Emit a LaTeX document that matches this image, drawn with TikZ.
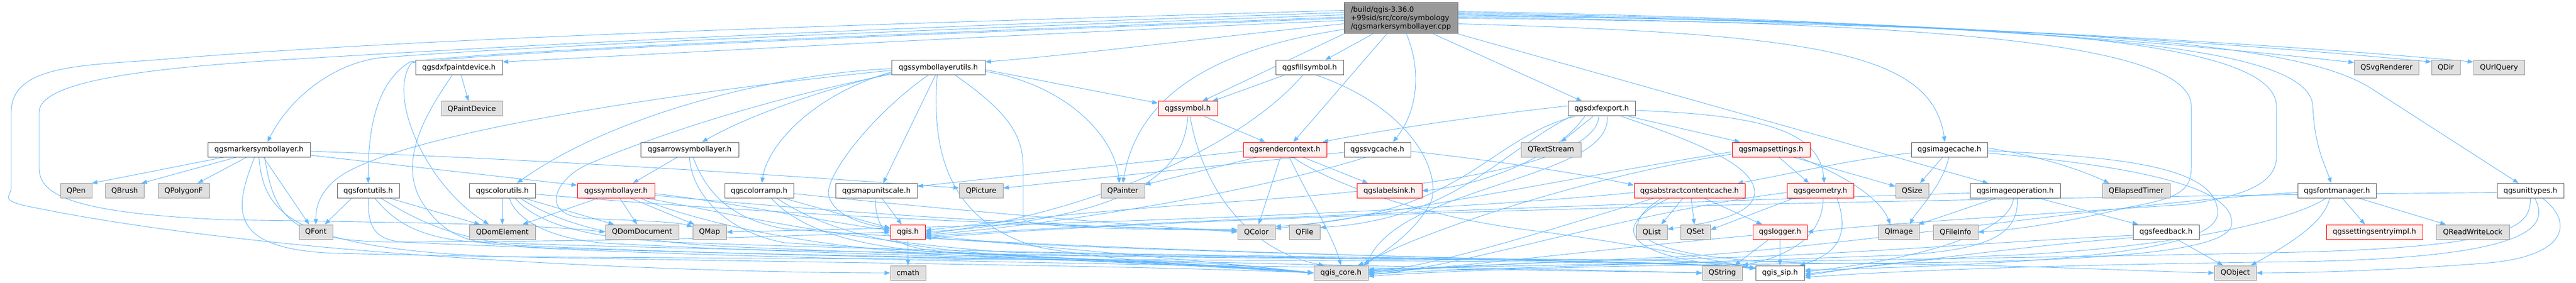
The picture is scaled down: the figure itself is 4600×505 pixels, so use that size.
\documentclass[tikz,border=0pt]{standalone}
\usepackage{fontspec}
\setmainfont{DejaVu Sans}
\usetikzlibrary{arrows.meta}
\definecolor{edgeblue}{HTML}{63B8FF}
\definecolor{boxgray}{HTML}{666666}
\definecolor{extgray}{HTML}{999999}
\definecolor{extfill}{HTML}{E0E0E0}
\definecolor{redfill}{HTML}{FFF0F0}
\definecolor{rootfill}{HTML}{999999}
\newcommand{\dxfont}{\fontsize{12.9pt}{15pt}\selectfont}
\pgfdeclarelayer{edges}
\pgfsetlayers{edges,main}
\begin{document}
\begin{tikzpicture}[x=1pt,y=1pt,
  nd/.style={draw=boxgray, fill=white, line width=1pt, minimum height=26pt, inner sep=0pt, font=\dxfont, anchor=center, text=black},
  ext/.style={nd, draw=extgray, fill=extfill},
  trunc/.style={nd, draw=red, fill=redfill},
  edg/.style={draw=edgeblue, line width=0.9pt, -{Triangle[length=10pt,width=7.5pt]}},
]
\useasboundingbox (0,0) rectangle (4600,-505);
% nodes
\node[nd, fill=rootfill, minimum width=203pt, minimum height=55pt, align=left] (root) at (2501.5,-32.5) {/build/qgis-3.36.0\\+99sid/src/core/symbology\\/qgsmarkersymbollayer.cpp};
\node[nd, minimum width=155pt] (dxfpd) at (819.5,-120.5) {qgsdxfpaintdevice.h};
\node[nd, minimum width=167pt] (slu) at (1675.5,-120.5) {qgssymbollayerutils.h};
\node[nd, minimum width=121pt] (fs) at (2338.5,-120.5) {qgsfillsymbol.h};
\node[ext, minimum width=115pt] (svgr) at (4261.5,-120.5) {QSvgRenderer};
\node[ext, minimum width=51pt] (qdir) at (4367.5,-120.5) {QDir};
\node[ext, minimum width=91pt] (qurl) at (4462.5,-120.5) {QUrlQuery};
\node[ext, minimum width=109pt] (qpd) at (842.5,-194) {QPaintDevice};
\node[trunc, minimum width=106pt] (sym) at (2121,-194) {qgssymbol.h};
\node[nd, minimum width=120pt] (dxfe) at (2860,-194) {qgsdxfexport.h};
\node[nd, minimum width=183pt] (msl) at (462.5,-267) {qgsmarkersymbollayer.h};
\node[nd, minimum width=175pt] (asl) at (1231.5,-267) {qgsarrowsymbollayer.h};
\node[trunc, minimum width=149pt] (rc) at (2294.5,-267) {qgsrendercontext.h};
\node[nd, minimum width=119pt] (svg) at (2459.5,-267) {qgssvgcache.h};
\node[ext, minimum width=107pt] (qts) at (2769.5,-267) {QTextStream};
\node[trunc, minimum width=139pt] (ms) at (3162.5,-267) {qgsmapsettings.h};
\node[nd, minimum width=136pt] (ic) at (3481,-267) {qgsimagecache.h};
\node[ext, minimum width=56pt] (qpen) at (136,-340.5) {QPen};
\node[ext, minimum width=69pt] (qbrush) at (222.5,-340.5) {QBrush};
\node[ext, minimum width=92pt] (qpoly) at (328,-340.5) {QPolygonF};
\node[nd, minimum width=111pt] (fu) at (657.5,-340.5) {qgsfontutils.h};
\node[nd, minimum width=118pt] (cu) at (897,-340.5) {qgscolorutils.h};
\node[trunc, minimum width=138pt] (sl) at (1100,-340.5) {qgssymbollayer.h};
\node[nd, minimum width=123pt] (cr) at (1355.5,-340.5) {qgscolorramp.h};
\node[nd, minimum width=146pt] (mus) at (1565,-340.5) {qgsmapunitscale.h};
\node[ext, minimum width=78pt] (qpic) at (1752,-340.5) {QPicture};
\node[ext, minimum width=78pt] (qpainter) at (2005,-340.5) {QPainter};
\node[trunc, minimum width=116pt] (ls) at (2481,-340.5) {qgslabelsink.h};
\node[trunc, minimum width=198pt] (acc) at (3017,-340.5) {qgsabstractcontentcache.h};
\node[trunc, minimum width=119pt] (geom) at (3250.5,-340.5) {qgsgeometry.h};
\node[ext, minimum width=59pt] (qsize) at (3414.5,-340.5) {QSize};
\node[nd, minimum width=161pt] (io) at (3598.5,-340.5) {qgsimageoperation.h};
\node[ext, minimum width=121pt] (qet) at (3814.5,-340.5) {QElapsedTimer};
\node[nd, minimum width=140pt] (fm) at (4173,-340.5) {qgsfontmanager.h};
\node[nd, minimum width=119pt] (ut) at (4518.5,-340.5) {qgsunittypes.h};
\node[ext, minimum width=60pt] (qfont) at (564,-414) {QFont};
\node[ext, minimum width=118pt] (qde) at (897,-414) {QDomElement};
\node[ext, minimum width=131pt] (qdd) at (1146.5,-414) {QDomDocument};
\node[ext, minimum width=60pt] (qmap) at (1267,-414) {QMap};
\node[trunc, minimum width=62pt] (qgis) at (1621,-414) {qgis.h};
\node[ext, minimum width=67pt] (qcolor) at (2243.5,-414) {QColor};
\node[ext, minimum width=55pt] (qfile) at (2329.5,-414) {QFile};
\node[ext, minimum width=55pt] (qlist) at (2949.5,-414) {QList};
\node[ext, minimum width=53pt] (qset) at (3027.5,-414) {QSet};
\node[trunc, minimum width=97pt] (log) at (3178.5,-414) {qgslogger.h};
\node[ext, minimum width=73pt] (qimage) at (3390.5,-414) {QImage};
\node[ext, minimum width=80pt] (qfi) at (3492,-414) {QFileInfo};
\node[nd, minimum width=118pt] (fb) at (3868,-414) {qgsfeedback.h};
\node[trunc, minimum width=172pt] (sei) at (4240,-414) {qgssettingsentryimpl.h};
\node[ext, minimum width=131pt] (qrwl) at (4415.5,-414) {QReadWriteLock};
\node[ext, minimum width=63pt] (cmath) at (1621.5,-487) {cmath};
\node[ext, minimum width=97pt] (core) at (2394.5,-487) {qgis\_core.h};
\node[ext, minimum width=71pt] (qstring) at (3075.5,-487) {QString};
\node[nd, minimum width=87pt] (sip) at (3178.5,-487) {qgis\_sip.h};
\node[ext, minimum width=75pt] (qobject) at (3991.5,-487) {QObject};

\begin{pgfonlayer}{edges}
\fill[white] (0,0) rectangle (4600,-505);
% root, left side
\draw[edg] ([yshift=14pt]root.west) .. controls (1300,-50) and (700,-72) .. (290,-106) .. controls (150,-117) and (20,-115) .. (20,-200) -- (20,-335) .. controls (20,-350) and (0,-355) .. (40,-366) .. controls (200,-400) and (400,-425) .. (600,-443) .. controls (1000,-478) and (1400,-487) .. (cmath.west);
\draw[edg] ([yshift=10pt]root.west) .. controls (1300,-58) and (750,-92) .. (500,-107) .. controls (300,-120) and (70,-140) .. (70,-200) -- (70,-300) .. controls (70,-345) and (120,-380) .. (400,-392) .. controls (700,-397) and (950,-399) .. (qdd.west);
\draw[edg] ([yshift=6pt]root.west) .. controls (1500,-58) and (900,-85) .. (680,-103) .. controls (600,-112) and (520,-170) .. ([xshift=15pt]msl.north);
\draw[edg] ([yshift=2pt]root.west) .. controls (1500,-64) and (900,-90) .. (733,-110) .. controls (665,-150) and (657,-250) .. (fu.north);
\draw[edg] (root.west) .. controls (1500,-66) and (900,-92) .. (735,-112) .. controls (690,-170) and (760,-330) .. ([xshift=-24pt]qde.north);
\draw[edg] ([yshift=-4pt]root.west) .. controls (1800,-62) and (1200,-95) .. ([yshift=10pt]dxfpd.east);
\draw[edg] ([yshift=-10pt]root.west) .. controls (2200,-62) and (1950,-95) .. ([yshift=10pt]slu.east);
\draw[edg] ([yshift=-20pt]root.west) .. controls (2150,-90) and (2030,-180) .. (qpainter.north);
% root, bottom
\draw[edg] (root.south west) -- ([xshift=26pt]sym.north);
\draw[edg] ([xshift=-50pt]root.south) -- ([xshift=28pt]fs.north);
\draw[edg] ([xshift=-25pt]root.south) -- ([xshift=15pt]rc.north);
\draw[edg] ([xshift=10pt]root.south) .. controls (2540,-130) and (2530,-200) .. ([xshift=28pt]svg.north);
\draw[edg] ([xshift=58pt]root.south) -- ([xshift=-35pt]dxfe.north);
\draw[edg] (root.south east) -- ([xshift=-48pt]io.north);
% root, right side
\draw[edg] ([yshift=-10pt]root.east) .. controls (3250,-60) and (3450,-95) .. ([xshift=-8pt]ic.north);
\draw[edg] ([yshift=12pt]root.east) .. controls (3500,-35) and (4000,-90) .. ([yshift=9pt]svgr.west);
\draw[edg] ([yshift=10pt]root.east) .. controls (3600,-40) and (4200,-97) .. ([yshift=10pt]qdir.west);
\draw[edg] ([yshift=8pt]root.east) .. controls (3700,-45) and (4300,-100) .. ([yshift=10pt]qurl.west);
\draw[edg] ([yshift=6pt]root.east) .. controls (3700,-45) and (4125,-80) .. (4130,-190) .. controls (4133,-260) and (4150,-290) .. ([xshift=-10pt]fm.north);
\draw[edg] ([yshift=4pt]root.east) .. controls (3500,-38) and (4065,-60) .. (4065,-190) -- (4065,-280) .. controls (4065,-330) and (4000,-352) .. (3900,-365) .. controls (3600,-385) and (3350,-400) .. (log.east);
\draw[edg] ([yshift=2pt]root.east) .. controls (3400,-40) and (3913,-70) .. (3913,-190) -- (3913,-300) .. controls (3913,-345) and (3880,-355) .. (3800,-370) .. controls (3700,-395) and (3600,-410) .. (qfi.east);
\draw[edg] (root.east) .. controls (3700,-45) and (4100,-74) .. (4233,-157) -- ([xshift=-21pt]ut.north);
% qgsmarkersymbollayer.h
\draw[edg] ([xshift=-62pt]msl.south) -- ([xshift=28pt]qpen.north);
\draw[edg] ([xshift=-40pt]msl.south) -- ([xshift=30pt]qbrush.north);
\draw[edg] ([xshift=-22pt]msl.south) -- ([xshift=25pt]qpoly.north);
\draw[edg] ([xshift=8pt]msl.south) -- ([xshift=-12pt]qfont.north);
\draw[edg] ([yshift=-3pt]msl.east) .. controls (1000,-285) and (1500,-320) .. ([yshift=5pt]qpic.west);
\draw[edg] ([yshift=-10pt]msl.east) -- ([yshift=10pt]sl.west);
\draw[edg] ([xshift=-8pt]msl.south) .. controls (420,-370) and (400,-445) .. (600,-452) .. controls (1300,-468) and (2000,-472) .. (core.west);
\draw[edg] (msl.south) .. controls (470,-380) and (520,-445) .. (900,-458) .. controls (2000,-466) and (2950,-462) .. ([yshift=9pt]sip.west);
\draw[edg] ([xshift=10pt]msl.south) .. controls (490,-390) and (520,-430) .. (700,-432) .. controls (1200,-430) and (1450,-420) .. (qgis.west);
% qgsdxfpaintdevice.h
\draw[edg] ([xshift=4pt]dxfpd.south) -- ([xshift=-6pt]qpd.north);
\draw[edg] ([xshift=-12pt]dxfpd.south) .. controls (770,-190) and (700,-290) .. (760,-370) .. controls (790,-410) and (820,-432) .. (900,-437) .. controls (1200,-450) and (1500,-458) .. (1800,-462) .. controls (2100,-466) and (2250,-480) .. (core.west);
% qgsfontutils.h
\draw[edg] ([xshift=-30pt]fu.south) -- ([xshift=16pt]qfont.north);
\draw[edg] ([xshift=39pt]fu.south) -- ([xshift=-40pt]qde.north);
\draw[edg] (fu.south) .. controls (657,-400) and (665,-428) .. (720,-432) .. controls (1100,-450) and (1500,-455) .. (1800,-462) .. controls (2100,-468) and (2250,-482) .. (core.west);
\draw[edg] ([xshift=12pt]fu.south) .. controls (700,-390) and (740,-425) .. (850,-432) .. controls (1400,-452) and (2400,-462) .. (2800,-463) .. controls (3000,-464) and (3080,-468) .. ([yshift=8pt]sip.west);
\draw[edg] ([xshift=23pt]fu.south) .. controls (740,-390) and (800,-425) .. (950,-442) .. controls (1500,-470) and (2700,-480) .. (qstring.west);
% qgscolorutils.h
\draw[edg] (cu.south) -- (qde.north);
\draw[edg] ([xshift=40pt]cu.south) -- ([xshift=-50pt]qdd.north);
\draw[edg] ([yshift=-6pt]cu.east) .. controls (1400,-385) and (1900,-405) .. ([yshift=4pt]qcolor.west);
\draw[edg] ([xshift=13pt]cu.south) .. controls (920,-390) and (980,-430) .. (1100,-435) .. controls (1500,-455) and (1900,-462) .. (2100,-468) .. controls (2250,-472) and (2300,-485) .. (core.west);
\draw[edg] ([xshift=23pt]cu.south) .. controls (960,-400) and (1050,-425) .. (1200,-432) .. controls (1800,-455) and (2700,-462) .. (2900,-464) .. controls (3050,-466) and (3090,-470) .. ([yshift=8pt]sip.west);
\draw[edg] ([xshift=33pt]cu.south) .. controls (990,-395) and (1100,-430) .. (1300,-440) .. controls (2000,-470) and (2800,-480) .. (qstring.west);
% qgsarrowsymbollayer.h
\draw[edg] ([xshift=-22pt]asl.south) -- ([xshift=30pt]sl.north);
\draw[edg] (asl.south) .. controls (1232,-330) and (1280,-410) .. (1400,-433) .. controls (1800,-460) and (2200,-470) .. (core.west);
\draw[edg] ([xshift=6pt]asl.south) .. controls (1260,-340) and (1300,-390) .. (1400,-408) .. controls (2000,-455) and (2900,-462) .. ([yshift=8pt]sip.west);
% qgssymbollayer.h
\draw[edg] ([xshift=-33pt]sl.south) -- ([xshift=36pt]qde.north);
\draw[edg] ([xshift=7pt]sl.south) -- ([xshift=-9pt]qdd.north);
\draw[edg] ([xshift=27pt]sl.south) -- ([xshift=-27pt]qmap.north);
\draw[edg] ([yshift=-5pt]sl.east) .. controls (1300,-360) and (1500,-400) .. ([yshift=3pt]qgis.west);
\draw[edg] ([yshift=-8pt]sl.east) .. controls (1500,-380) and (1900,-405) .. ([yshift=2pt]qcolor.west);
\draw[edg] ([xshift=45pt]sl.south) .. controls (1200,-380) and (1400,-440) .. (1700,-455) .. controls (2000,-468) and (2250,-480) .. (core.west);
\draw[edg] ([xshift=55pt]sl.south) .. controls (1250,-370) and (1500,-430) .. (1800,-450) .. controls (2500,-465) and (2950,-462) .. ([yshift=8pt]sip.west);
% qgscolorramp.h
\draw[edg] ([xshift=45pt]cr.south) -- ([yshift=7pt]qgis.west);
\draw[edg] ([yshift=-5pt]cr.east) .. controls (1700,-375) and (2000,-400) .. (qcolor.west);
\draw[edg] ([xshift=22pt]cr.south) .. controls (1420,-400) and (1500,-440) .. (1700,-452) .. controls (2000,-465) and (2250,-478) .. (core.west);
\draw[edg] ([xshift=32pt]cr.south) .. controls (1450,-395) and (1550,-440) .. (1800,-455) .. controls (2500,-465) and (2950,-462) .. ([yshift=8pt]sip.west);
% qgsmapunitscale.h
\draw[edg] ([xshift=10pt]mus.south) -- ([xshift=-11pt]qgis.north);
\draw[edg] ([xshift=-2pt]mus.south) .. controls (1563,-420) and (1600,-445) .. (1700,-450) .. controls (2000,-465) and (2250,-478) .. (core.west);
% qgssymbollayerutils.h
\draw[edg] ([yshift=-8pt]slu.west) .. controls (1450,-170) and (1370,-260) .. ([xshift=5pt]cr.north);
\draw[edg] ([xshift=-5pt]slu.south) -- ([xshift=12pt]mus.north);
\draw[edg] ([xshift=-18pt]slu.south) .. controls (1550,-210) and (1470,-320) .. (1480,-350) .. controls (1490,-385) and (1540,-400) .. ([yshift=6pt]qgis.west);
\draw[edg] ([xshift=-2pt]slu.south) .. controls (1665,-250) and (1680,-390) .. (1850,-440) .. controls (2000,-470) and (2250,-478) .. (core.west);
\draw[edg] ([xshift=30pt]slu.south) .. controls (1800,-200) and (1827,-240) .. (1827,-300) -- (1827,-390) .. controls (1827,-405) and (2000,-410) .. ([yshift=4pt]qcolor.west);
\draw[edg] ([yshift=-4pt]slu.east) -- ([yshift=10pt]sym.west);
\draw[edg] ([yshift=-7pt]slu.east) .. controls (1900,-150) and (1990,-240) .. ([xshift=-6pt]qpainter.north);
\draw[edg] ([yshift=-5pt]slu.west) .. controls (1200,-165) and (700,-240) .. (600,-320) .. controls (570,-345) and (564,-370) .. (qfont.north);
\draw[edg] ([yshift=-2pt]slu.west) .. controls (1400,-130) and (1100,-200) .. ([xshift=26pt]cu.north);
\draw[edg] ([yshift=-10pt]slu.west) .. controls (1450,-165) and (1330,-210) .. ([xshift=22pt]asl.north);
\draw[edg] ([yshift=-12pt]slu.west) .. controls (1350,-180) and (1150,-250) .. (1050,-293) .. controls (990,-320) and (960,-385) .. (1050,-390) .. controls (1150,-394) and (1210,-396) .. ([yshift=9pt]qmap.west);
% qgis.h
\draw[edg] (qgis.south) -- (cmath.north);
\draw[edg] ([yshift=-6pt]qgis.east) .. controls (1850,-440) and (2200,-470) .. (core.west);
\draw[edg] ([yshift=-9pt]qgis.east) .. controls (1900,-450) and (2900,-462) .. ([yshift=8pt]sip.west);
% qgssymbol.h
\draw[edg] ([xshift=29pt]sym.south) -- ([xshift=-35pt]rc.north);
\draw[edg] (sym.south) .. controls (2115,-320) and (2000,-390) .. (qgis.east);
\draw[edg] ([xshift=4pt]sym.south) .. controls (2150,-350) and (2240,-450) .. ([xshift=-30pt]core.north);
% qgsfillsymbol.h
\draw[edg] ([xshift=-45pt]fs.south) -- ([xshift=44pt]sym.north);
\draw[edg] ([xshift=-12pt]fs.south) .. controls (2200,-280) and (1900,-390) .. ([yshift=-3pt]qgis.east);
\draw[edg] ([xshift=12pt]fs.south) .. controls (2540,-200) and (2580,-330) .. (2550,-370) .. controls (2520,-420) and (2460,-460) .. ([xshift=30pt]core.north);
% qgsrendercontext.h
\draw[edg] ([xshift=32pt]rc.south) -- ([xshift=-38pt]ls.north);
\draw[edg] ([xshift=-8pt]rc.south) -- ([xshift=4pt]qcolor.north);
\draw[edg] ([xshift=8pt]rc.south) .. controls (2330,-340) and (2380,-420) .. (core.north);
\draw[edg] ([xshift=14pt]rc.south) .. controls (2380,-330) and (2550,-390) .. (2750,-413) .. controls (2950,-440) and (3060,-465) .. ([yshift=8pt]sip.west);
\draw[edg] ([yshift=-3pt]rc.west) -- ([yshift=8pt]mus.east);
\draw[edg] ([xshift=-50pt]rc.south) -- ([yshift=11pt]qpainter.east);
% qgssvgcache.h
\draw[edg] ([yshift=-5pt]svg.west) -- ([yshift=5pt]qpic.east);
\draw[edg] ([yshift=-3pt]svg.east) .. controls (2700,-290) and (2850,-315) .. ([yshift=10pt]acc.west);
\draw[edg] ([xshift=-20pt]svg.south) .. controls (2250,-340) and (1900,-400) .. ([yshift=-5pt]qgis.east);
% qgsdxfexport.h
\draw[edg] ([xshift=-15pt]dxfe.south) -- ([xshift=18pt]qts.north);
\draw[edg] ([xshift=48pt]dxfe.south) -- ([xshift=-55pt]ms.north);
\draw[edg] ([yshift=-3pt]dxfe.east) .. controls (3150,-205) and (3250,-235) .. ([xshift=7pt]geom.north);
\draw[edg] ([yshift=5pt]dxfe.west) .. controls (2650,-205) and (2450,-235) .. ([xshift=-8pt]rc.north east);
\draw[edg] ([xshift=-48pt]dxfe.south) .. controls (2650,-250) and (2620,-385) .. ([yshift=10pt]qcolor.east);
\draw[edg] ([xshift=-54pt]dxfe.south) .. controls (2680,-270) and (2600,-390) .. ([yshift=8pt]qfile.east);
\draw[edg] ([xshift=-30pt]dxfe.south) .. controls (2780,-280) and (2650,-330) .. (ls.east);
\draw[edg] ([xshift=35pt]dxfe.south) .. controls (3050,-260) and (3135,-300) .. (3133,-345) .. controls (3130,-385) and (3050,-398) .. ([yshift=5pt]qlist.east);
\draw[edg] ([xshift=-5pt]dxfe.south) .. controls (2850,-300) and (2500,-340) .. (2200,-360) .. controls (1900,-380) and (1750,-400) .. ([yshift=3pt]qgis.east);
\draw[edg] ([xshift=10pt]dxfe.south) .. controls (2880,-320) and (2500,-330) .. ([xshift=45pt]core.north);
% qgsmapsettings.h
\draw[edg] ([xshift=14pt]ms.south) -- ([xshift=-20pt]geom.north);
\draw[edg] ([xshift=40pt]ms.south) -- ([yshift=8pt]qsize.west);
\draw[edg] ([xshift=50pt]ms.south) .. controls (3310,-320) and (3360,-360) .. ([xshift=-15pt]qimage.north);
\draw[edg] ([yshift=-4pt]ms.west) .. controls (2900,-300) and (2500,-380) .. ([yshift=6pt]qcolor.east);
\draw[edg] ([yshift=-8pt]ms.west) .. controls (2800,-320) and (2500,-430) .. ([xshift=40pt]core.north);
% qgsabstractcontentcache.h
\draw[edg] ([xshift=-12pt]acc.south) -- ([xshift=17pt]qlist.north);
\draw[edg] ([xshift=3pt]acc.south) -- ([xshift=-2pt]qset.north);
\draw[edg] ([xshift=27pt]acc.south) -- ([xshift=-32pt]log.north);
\draw[edg] ([xshift=-65pt]acc.south) .. controls (2800,-400) and (2550,-480) .. ([yshift=3pt]core.east);
\draw[edg] ([xshift=-37pt]acc.south) .. controls (2880,-400) and (2880,-460) .. ([yshift=9pt]sip.west);
\draw[edg] ([xshift=-50pt]acc.south) .. controls (2860,-420) and (2950,-470) .. (3300,-470) .. controls (3600,-472) and (3850,-485) .. (qobject.west);
\draw[edg] ([yshift=-3pt]acc.west) .. controls (2500,-385) and (1700,-405) .. (qmap.east);
% qgsgeometry.h
\draw[edg] ([xshift=-48pt]geom.south) -- ([yshift=4pt]qset.east);
\draw[edg] ([yshift=-3pt]geom.west) .. controls (2900,-380) and (2600,-480) .. ([yshift=-3pt]core.east);
\draw[edg] ([xshift=30pt]geom.south) .. controls (3300,-410) and (3290,-450) .. ([xshift=35pt]sip.north);
\draw[edg] ([xshift=5pt]geom.south) .. controls (3255,-430) and (3180,-460) .. (qstring.north east);
% qgslogger.h
\draw[edg] ([xshift=-20pt]log.south) -- ([xshift=22pt]qstring.north);
\draw[edg] (log.south) -- (sip.north);
\draw[edg] ([yshift=-6pt]log.west) .. controls (2900,-440) and (2600,-478) .. (core.east);
% qgsimagecache.h
\draw[edg] ([xshift=-12pt]ic.south) -- ([xshift=14pt]qsize.north);
\draw[edg] ([xshift=-1pt]ic.south) .. controls (3470,-330) and (3420,-380) .. ([xshift=20pt]qimage.north);
\draw[edg] ([yshift=-6pt]ic.west) .. controls (3300,-285) and (3200,-310) .. ([xshift=-14pt]acc.north east);
\draw[edg] ([yshift=3pt]ic.east) .. controls (3650,-280) and (3720,-305) .. ([xshift=-48pt]qet.north);
\draw[edg] ([yshift=-2pt]ic.east) .. controls (3800,-280) and (3960,-300) .. (3960,-380) .. controls (3960,-445) and (3700,-470) .. ([yshift=5pt]sip.east);
\draw[edg] ([yshift=-6pt]ic.east) .. controls (3850,-300) and (3990,-340) .. (3985,-400) .. controls (3980,-455) and (3700,-468) .. (3300,-470) .. controls (2900,-472) and (2600,-482) .. ([yshift=-6pt]core.east);
% qgsimageoperation.h
\draw[edg] ([xshift=-35pt]io.south) -- ([xshift=-2pt]qimage.north east);
\draw[edg] ([xshift=43pt]io.south) -- ([xshift=-50pt]fb.north);
\draw[edg] ([xshift=-3pt]io.south) .. controls (3590,-410) and (3450,-460) .. ([yshift=2pt]sip.east);
\draw[edg] ([xshift=4pt]io.south) .. controls (3605,-420) and (3550,-445) .. (3400,-455) .. controls (3000,-470) and (2600,-480) .. ([yshift=-2pt]core.east);
\draw[edg] ([yshift=-4pt]io.west) .. controls (3000,-360) and (2000,-395) .. ([yshift=-8pt]qgis.east);
% qgsfeedback.h
\draw[edg] ([xshift=20pt]fb.south) -- ([xshift=-22pt]qobject.north);
\draw[edg] ([yshift=-6pt]fb.west) .. controls (3500,-435) and (3300,-455) .. (3000,-462) .. controls (2700,-468) and (2550,-478) .. ([yshift=1pt]core.east);
\draw[edg] ([yshift=-10pt]fb.west) .. controls (3600,-440) and (3400,-470) .. ([yshift=-2pt]sip.east);
% qgsfontmanager.h
\draw[edg] ([xshift=10pt]fm.south) -- ([xshift=-17pt]sei.north);
\draw[edg] ([xshift=40pt]fm.south) -- ([xshift=-48pt]qrwl.north);
\draw[edg] ([xshift=-13pt]fm.south) .. controls (4150,-400) and (4080,-440) .. ([xshift=28pt]qobject.north);
\draw[edg] ([xshift=-20pt]fm.south) .. controls (4100,-390) and (3900,-440) .. (3600,-455) .. controls (3400,-462) and (3300,-480) .. ([yshift=-5pt]sip.east);
\draw[edg] ([yshift=-3pt]fm.west) .. controls (3800,-360) and (3300,-440) .. (3000,-458) .. controls (2700,-470) and (2550,-480) .. ([yshift=4pt]core.east);
% qgsunittypes.h
\draw[edg] ([yshift=-3pt]ut.west) .. controls (3500,-352) and (2200,-380) .. ([yshift=-11pt]qgis.east);
\draw[edg] (ut.south) .. controls (4518,-400) and (4500,-440) .. (4100,-450) .. controls (3700,-460) and (2800,-470) .. ([yshift=6pt]core.east);
\draw[edg] ([xshift=8pt]ut.south) .. controls (4550,-400) and (4540,-460) .. (4100,-467) .. controls (3700,-472) and (3400,-482) .. ([yshift=-8pt]sip.east);
\draw[edg] ([xshift=22pt]ut.south) .. controls (4600,-400) and (4580,-460) .. (4433,-470) .. controls (4300,-480) and (4150,-487) .. (qobject.east);
\end{pgfonlayer}
\end{tikzpicture}
\end{document}
